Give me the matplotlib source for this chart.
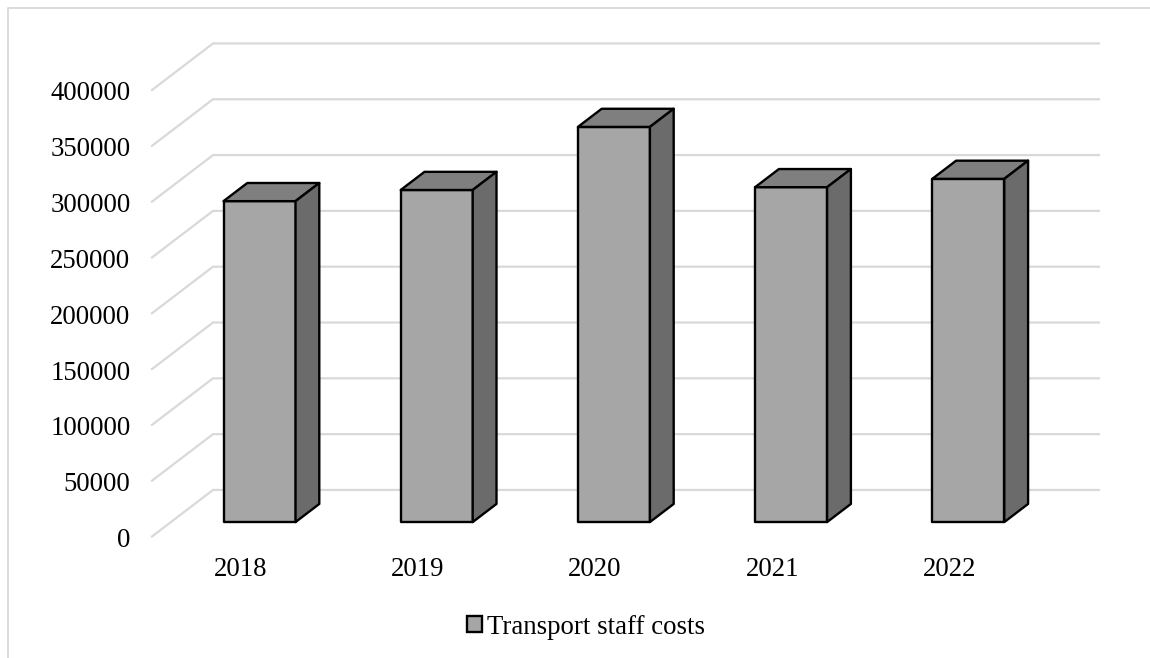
#!/usr/bin/env python3
import matplotlib
matplotlib.use("Agg")
import matplotlib.pyplot as plt
from matplotlib.lines import Line2D
from matplotlib.patches import Patch, Polygon
from matplotlib.transforms import ScaledTranslation

years = ["2018", "2019", "2020", "2021", "2022"]
costs = [287500, 297500, 354000, 300000, 307500]
y_ticks = [0, 50000, 100000, 150000, 200000, 250000, 300000, 350000, 400000]
series_name = "Transport staff costs"

W, H = 1150, 658
plt.rcParams["font.family"] = ["Liberation Serif", "DejaVu Serif"]
FS = 19.3

GRID = "#d9d9d9"
FRONT = "#a6a6a6"
TOP = "#7f7f7f"
SIDE = "#6b6b6b"

fig = plt.figure(figsize=(W / 100, H / 100), dpi=100)
# front plane of the fake 3d box, the depth gets added on top of this
ax = fig.add_axes([152 / W, (H - 536.5) / H, (1038 - 152) / W, (536.5 - 90) / H])
ax.set_xlim(-0.5, 4.5)
ax.set_ylim(0, 400000)
for s in ax.spines.values():
    s.set_visible(False)
ax.patch.set_visible(False)

ax.set_xticks(range(len(years)), years)
ax.set_yticks(y_ticks)
ax.tick_params(length=0, labelsize=FS, colors="black")
ax.tick_params(axis="y", pad=15.5)
ax.tick_params(axis="x", pad=14.8)
# y labels sit a pixel under their lines
nudge = ScaledTranslation(0, -1 / 100, fig.dpi_scale_trans)
for lab in ax.get_yticklabels():
    lab.set_transform(lab.get_transform() + nudge)

# depth of the whole box in data units
DX = 61 / 177.2
DY = 41700
# bar sits between these fractions of the depth
D0, D1 = 0.31, 0.70
BAR_W = 72 / 177.2

# gridlines run along the floor/wall
for v in y_ticks:
    ax.plot([-0.5, -0.5 + DX, 4.5 + DX], [v, v + DY, v + DY], color=GRID, lw=1.6,
            clip_on=False, zorder=1, solid_joinstyle="miter")


def box(i, val):
    xl = i - BAR_W / 2 + D0 * DX
    xr = xl + BAR_W
    y0 = D0 * DY
    y1 = y0 + val
    ddx = (D1 - D0) * DX
    ddy = (D1 - D0) * DY
    faces = [
        ([(xl, y0), (xr, y0), (xr, y1), (xl, y1)], FRONT),
        ([(xl, y1), (xr, y1), (xr + ddx, y1 + ddy), (xl + ddx, y1 + ddy)], TOP),
        ([(xr, y0), (xr + ddx, y0 + ddy), (xr + ddx, y1 + ddy), (xr, y1)], SIDE),
    ]
    for pts, col in faces:
        ax.add_patch(Polygon(pts, closed=True, facecolor=col, edgecolor="black", lw=1.7,
                             clip_on=False, zorder=3, joinstyle="round"))


for i, val in enumerate(costs):
    box(i, val)

handle = Patch(facecolor=FRONT, edgecolor="black", lw=1.7)
fig.legend([handle], [series_name], loc="center", bbox_to_anchor=(586 / W, (H - 627) / H),
           frameon=False, fontsize=FS, handlelength=0.55, handleheight=0.55,
           handletextpad=0.2, borderpad=0, borderaxespad=0)

# chart border, cut off by the image on the right and at the bottom
fig.add_artist(Line2D([8 / W, 8 / W, 1], [0, (H - 8) / H, (H - 8) / H], color=GRID, lw=1.3))

fig.savefig("out.png", dpi=100)
